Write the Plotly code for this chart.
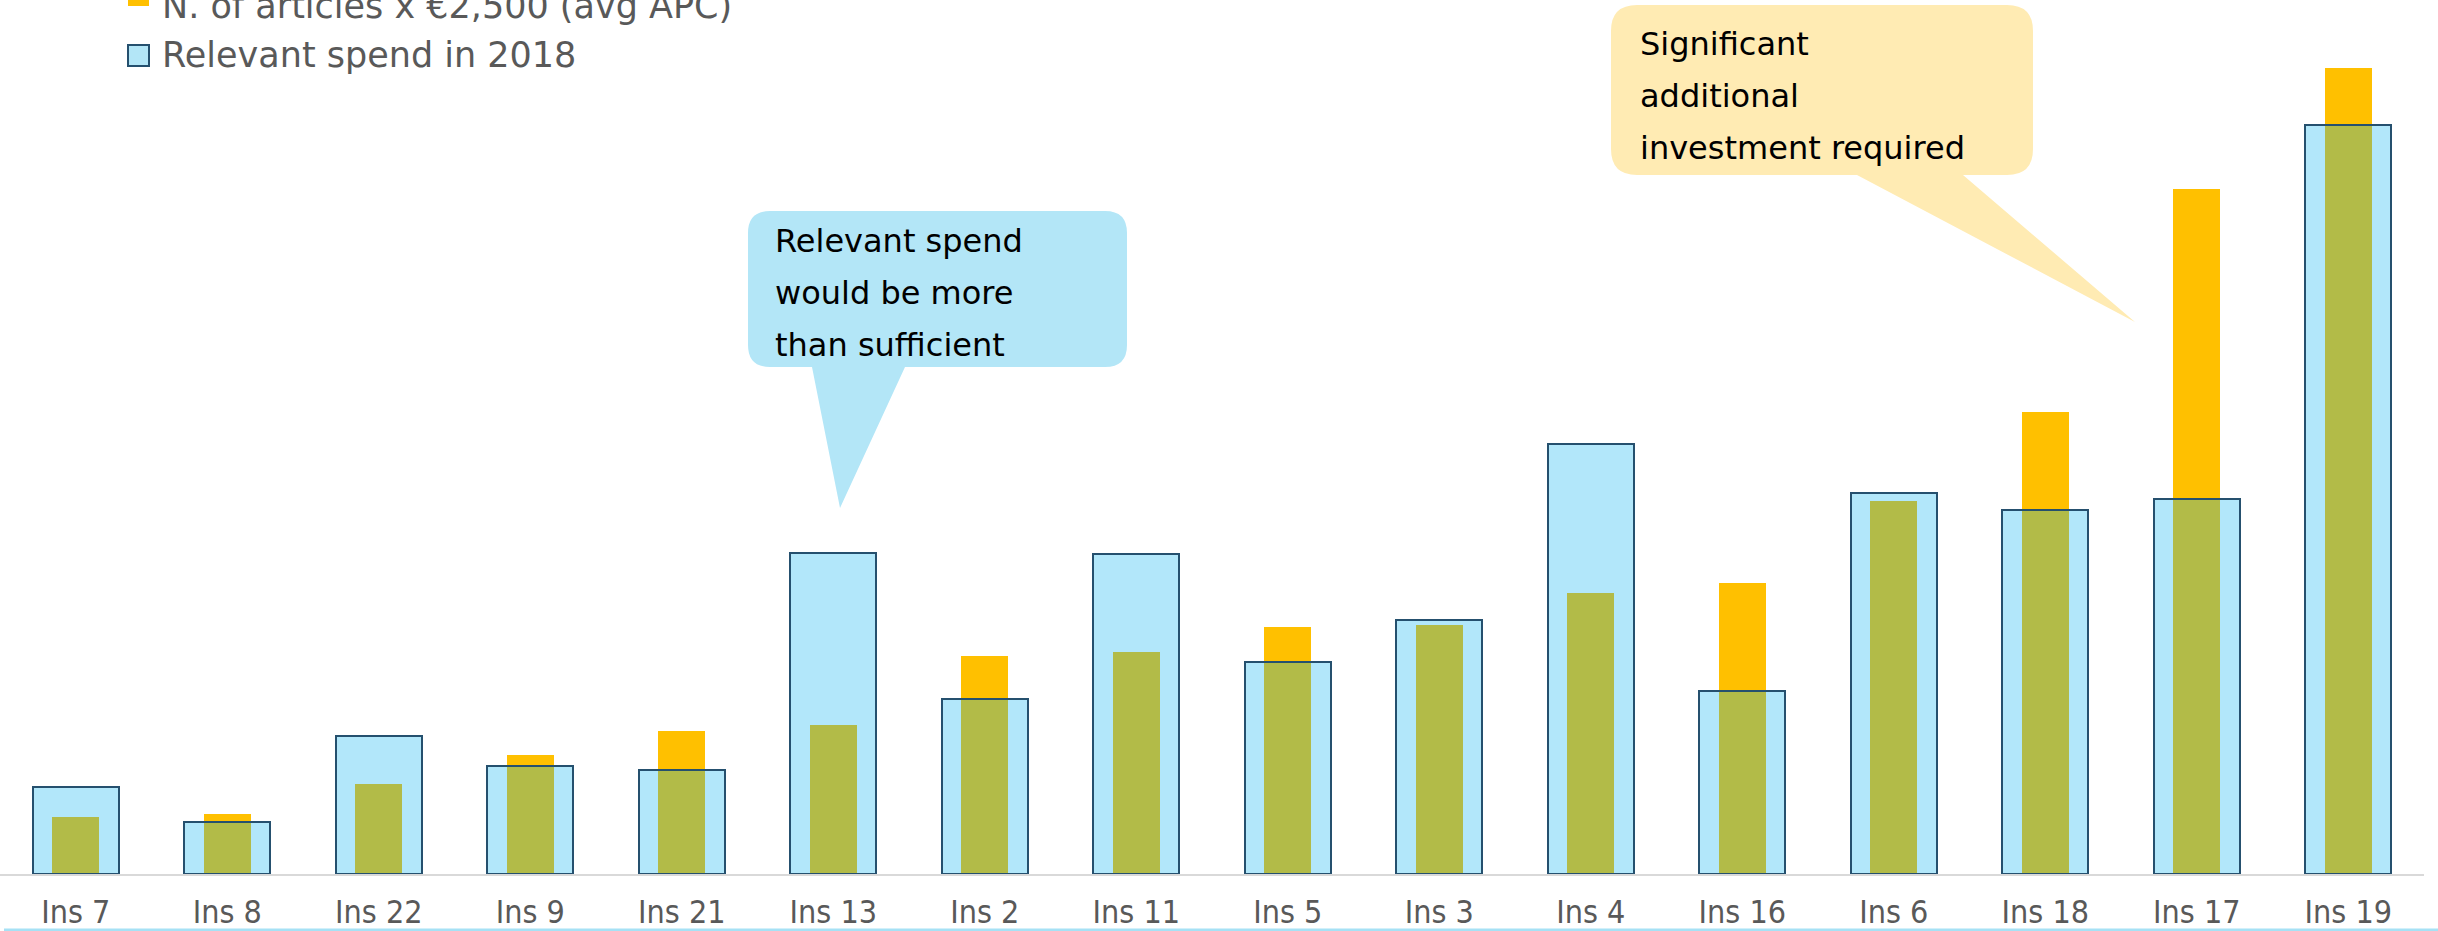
import plotly.graph_objects as go

# ---- data (k€) ----
categories = ["Ins 7", "Ins 8", "Ins 22", "Ins 9", "Ins 21", "Ins 13", "Ins 2", "Ins 11",
              "Ins 5", "Ins 3", "Ins 4", "Ins 16", "Ins 6", "Ins 18", "Ins 17", "Ins 19"]
apc_cost = [57, 60, 90, 119, 143, 149, 218, 222, 247, 249, 281, 291, 373, 462, 685, 806]
relevant_spend = [87, 52, 138, 108, 104, 321, 175, 320, 212, 254, 430, 183, 381, 364, 375, 749]

series_names = ["N. of articles x €2,500 (avg APC)", "Relevant spend in 2018"]
callout_blue = ["Relevant spend", "would be more", "than sufficient"]
callout_yellow = ["Significant", "additional", "investment required"]

# ---- layout geometry (pixels) ----
FIG_W, FIG_H = 2438, 931
M_L, M_R, M_T, M_B = 0, 14, 0, 57
PW = FIG_W - M_L - M_R
PH = FIG_H - M_T - M_B

ORANGE = "#FFC000"
BLUE_FILL = "rgba(0,176,240,0.30)"
BLUE_LINE = "#25506E"
GRAY_TXT = "#595959"
TXT_FONT = "DejaVu Sans"


def px(x):
    return (x - M_L) / PW


def py(y):
    return (M_T + PH - y) / PH


def bubble(x0, y0, x1, y1, r, tail):
    # tail: (base_left_x, base_right_x, tip_x, tip_y) on bottom edge
    bl, br, tx, ty = tail
    pts = []
    pts.append(f"M{px(x0 + r)},{py(y0)}")
    pts.append(f"L{px(x1 - r)},{py(y0)}")
    pts.append(f"Q{px(x1)},{py(y0)} {px(x1)},{py(y0 + r)}")
    pts.append(f"L{px(x1)},{py(y1 - r)}")
    pts.append(f"Q{px(x1)},{py(y1)} {px(x1 - r)},{py(y1)}")
    pts.append(f"L{px(br)},{py(y1)}")
    pts.append(f"L{px(tx)},{py(ty)}")
    pts.append(f"L{px(bl)},{py(y1)}")
    pts.append(f"L{px(x0 + r)},{py(y1)}")
    pts.append(f"Q{px(x0)},{py(y1)} {px(x0)},{py(y1 - r)}")
    pts.append(f"L{px(x0)},{py(y0 + r)}")
    pts.append(f"Q{px(x0)},{py(y0)} {px(x0 + r)},{py(y0)}")
    pts.append("Z")
    return " ".join(pts)


fig = go.Figure()
fig.add_trace(go.Bar(
    x=categories, y=apc_cost, name=series_names[0], width=0.31,
    marker=dict(color=ORANGE, line=dict(width=0)), showlegend=False, hoverinfo="skip"))
fig.add_trace(go.Bar(
    x=categories, y=relevant_spend, name=series_names[1], width=0.57,
    marker=dict(color=BLUE_FILL, line=dict(color=BLUE_LINE, width=2)),
    showlegend=False, hoverinfo="skip"))

shapes = []
annotations = []

# callout bubbles
shapes.append(dict(type="path", xref="paper", yref="paper", layer="above",
                   path=bubble(748, 211, 1127, 367, 22, (812, 905, 840, 508)),
                   fillcolor="#B3E6F7", line=dict(width=0)))
shapes.append(dict(type="path", xref="paper", yref="paper", layer="above",
                   path=bubble(1611, 5, 2033, 175, 26, (1857, 1963, 2135, 322)),
                   fillcolor="#FFEBB3", line=dict(width=0)))

for i, t in enumerate(callout_blue):
    annotations.append(dict(text=t, xref="paper", yref="paper", x=px(773), y=py(241 + 52 * i),
                            xanchor="left", yanchor="middle", showarrow=False,
                            font=dict(family=TXT_FONT, size=32, color="#000000", weight=500)))
for i, t in enumerate(callout_yellow):
    annotations.append(dict(text=t, xref="paper", yref="paper", x=px(1638), y=py(44 + 52 * i),
                            xanchor="left", yanchor="middle", showarrow=False,
                            font=dict(family=TXT_FONT, size=32, color="#000000", weight=500)))

# manual legend (top-left, first entry partly cut off as in the source)
shapes.append(dict(type="rect", xref="paper", yref="paper", x0=px(128), x1=px(149),
                   y0=py(-15), y1=py(6), fillcolor=ORANGE, line=dict(width=0)))
shapes.append(dict(type="rect", xref="paper", yref="paper", x0=px(128), x1=px(149),
                   y0=py(45), y1=py(66), fillcolor="#B3E6F7", line=dict(color=BLUE_LINE, width=2)))
annotations.append(dict(text=series_names[0], xref="paper", yref="paper", x=px(160), y=py(6),
                        xanchor="left", yanchor="middle", showarrow=False,
                        font=dict(family=TXT_FONT, size=35, color=GRAY_TXT)))
annotations.append(dict(text=series_names[1], xref="paper", yref="paper", x=px(160), y=py(55),
                        xanchor="left", yanchor="middle", showarrow=False,
                        font=dict(family=TXT_FONT, size=35, color=GRAY_TXT)))

# thin light-blue slide border at the very bottom
shapes.append(dict(type="line", xref="paper", yref="paper", x0=px(4), x1=px(FIG_W),
                   y0=py(930), y1=py(930), line=dict(color="#A6E1F5", width=3)))

fig.update_layout(
    width=FIG_W, height=FIG_H,
    margin=dict(l=M_L, r=M_R, t=M_T, b=M_B, pad=0, autoexpand=False),
    barmode="overlay",
    bargap=0,
    plot_bgcolor="white", paper_bgcolor="white",
    shapes=shapes, annotations=annotations,
    xaxis=dict(showline=True, linecolor="#D9D9D9", linewidth=2, showgrid=False, zeroline=False,
               automargin=False, ticks="", ticklabelstandoff=9,
               tickfont=dict(family="Liberation Sans Narrow, DejaVu Sans Condensed, sans-serif",
                             size=32, color=GRAY_TXT)),
    yaxis=dict(range=[0, PH], visible=False, showgrid=False, zeroline=False, automargin=False),
    showlegend=False,
)

fig.write_html("out.html")
